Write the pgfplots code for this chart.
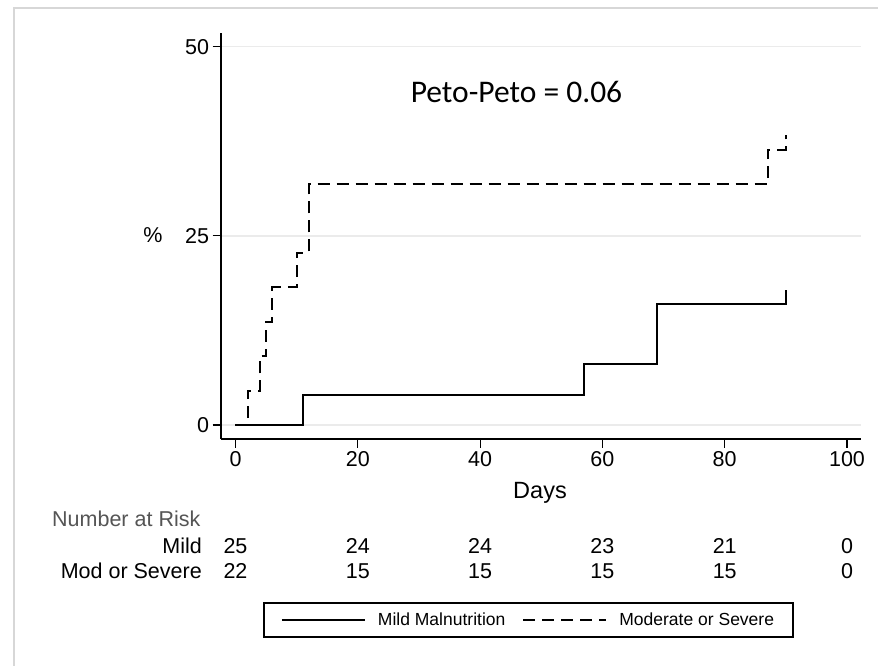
\documentclass[border=0pt]{standalone}
\usepackage{pgfplots}
\pgfplotsset{compat=1.18}
\usepackage{pgfplotstable}
\usepackage{fontspec}
\setmainfont{Liberation Sans}
\newfontfamily\calibri{Carlito}
\definecolor{gridc}{RGB}{235,235,235}
\definecolor{framec}{RGB}{215,215,215}
\definecolor{riskc}{RGB}{85,85,85}

\pgfplotstableread{
t p
0 0
11 0
11 4
57 4
57 8
69 8
69 16
90 16
90 17.9
}\mild

\pgfplotstableread{
t p
0 0
2 0
2 4.55
4 4.55
4 9.09
5 9.09
5 13.64
6 13.64
6 18.18
10 18.18
10 22.73
12 22.73
12 31.82
87 31.82
87 36.36
90 36.36
90 38.3
}\modsev

\begin{document}
\begin{tikzpicture}[x=1pt,y=1pt]
\useasboundingbox (0,0) rectangle (878,665);
\clip (0,0) rectangle (878,665);
\fill[white] (0,0) rectangle (878,665);
\draw[framec, line width=1.4pt] (14,657) rectangle (900,-20);

\begin{axis}[
  at={(221pt,226pt)}, anchor=south west,
  scale only axis, width=640pt, height=406pt,
  xmin=-2.37, xmax=102.29, ymin=-1.85, ymax=51.8,
  axis x line*=bottom, axis y line*=left,
  axis line style={line width=1.3pt, black, -},
  xtick={0,20,40,60,80,100}, ytick={0,25,50},
  tick align=outside, major tick length=8.5pt,
  tick style={line width=1.1pt, black},
  ymajorgrids, grid style={line width=1.5pt, gridc},
  ticklabel style={font=\fontsize{21.5}{24}\selectfont},
  /pgf/number format/assume math mode=true,
  clip=false,
  legend columns=2,
  legend style={at={(0.4805,-0.4458)}, anchor=center, draw=black, line width=1.2pt,
    font=\fontsize{17.5}{20}\selectfont, inner xsep=17pt, inner ysep=8pt,
    /tikz/every odd column/.append style={column sep=10pt},
    /tikz/every even column/.append style={column sep=15pt}},
  legend image code/.code={\draw[#1] (0pt,0pt) -- (83pt,0pt);},
]
\addplot[black, line width=2pt] table[x=t,y=p] {\mild};
\addlegendentry{Mild Malnutrition}
\addplot[black, line width=2pt, dash pattern=on 12pt off 7pt] table[x=t,y=p] {\modsev};
\addlegendentry{Moderate or Severe}
\end{axis}

\node[font=\fontsize{21.5}{24}\selectfont, anchor=center] at (153,430) {\%};
\node[font=\calibri\fontsize{31.5}{35}\selectfont, anchor=base] at (516.5,562) {Peto-Peto = 0.06};
\node[font=\fontsize{23.5}{26}\selectfont, anchor=base] at (540,167) {Days};

\node[font=\fontsize{21.5}{24}\selectfont, text=riskc, anchor=base west, inner sep=0pt] at (52,139) {Number at Risk};
\node[font=\fontsize{21.5}{24}\selectfont, anchor=base east, inner sep=0pt] at (202,112) {Mild};
\node[font=\fontsize{21.5}{24}\selectfont, anchor=base east, inner sep=0pt] at (202,87) {Mod or Severe};
\foreach \x/\a/\b in {235.5/25/22, 357.8/24/15, 480.1/24/15, 602.4/23/15, 724.7/21/15, 847/0/0} {
  \node[font=\fontsize{21.5}{24}\selectfont, anchor=base, inner sep=0pt] at (\x,112) {\a};
  \node[font=\fontsize{21.5}{24}\selectfont, anchor=base, inner sep=0pt] at (\x,87) {\b};
}
\end{tikzpicture}
\end{document}
